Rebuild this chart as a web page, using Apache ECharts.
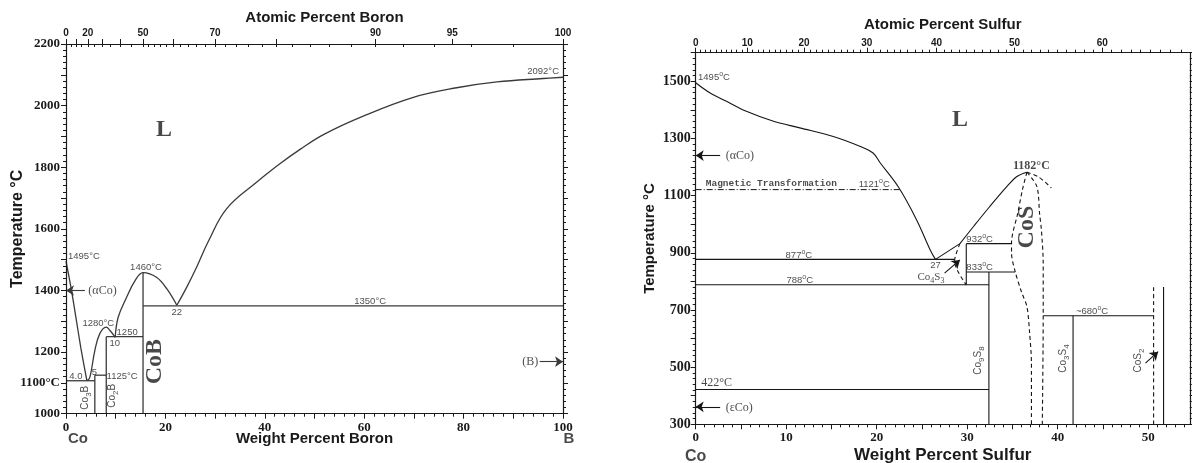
<!DOCTYPE html>
<html><head><meta charset="utf-8">
<script src="https://cdn.jsdelivr.net/npm/echarts@6/dist/echarts.min.js"></script>
<style>html,body{margin:0;padding:0;background:#fff}#c{width:1192px;height:463px}</style>
</head><body><div id="c"></div>
<script>
// ================= DATA =================
const M_CO = 58.933, M_B = 10.811, M_S = 32.06;   // atomic masses (for the atomic-% axis)

// ---- Co–B (x: wt% B, y: °C) ----
const cbLiquidusCo  = [[0,1495],[1,1410],[2,1312],[3,1212],[4.2,1107]];
const cbCo2BDome    = [[4.2,1107],[4.8,1118],[5.8,1205],[6.8,1260],[8.1,1281],[8.85,1270],[9.9,1248]];
const cbCoBDome     = [[9.9,1248],[10.5,1313],[12.2,1378],[13.9,1432],[15.5,1458],[18.2,1443],[20.3,1405],[22.3,1352]];
const cbLiquidusB   = [[22.3,1352],[24.3,1411],[26.3,1476],[28.6,1558],[32.3,1665],[38.4,1752],[43.1,1812],[47.1,1858],[51.8,1906],[59.8,1966],[69.9,2027],[78.6,2058],[86.7,2077],[96,2088],[100,2092]];
const cbStraight    = [
  [[0,1107],[5.8,1107]],        // eutectic
  [[5.8,1000],[5.8,1125]],      // Co3B
  [[5.8,1125],[8.1,1125]],      // 1125 peritectic
  [[8.1,1000],[8.1,1250]],      // Co2B
  [[8.1,1250],[15.5,1250]],     // 1250 eutectic
  [[15.5,1000],[15.5,1458]],    // CoB
  [[15.5,1350],[100,1350]]      // 1350 eutectic
];
const cbArrows = [ [[3.8,1400],[0,1400]], [[95.3,1169],[100,1169]] ];
const cbNotes = [
  ['L',19.7,1920,'bigL'], ['1495°C',0.2,1511,'smLeft'], ['(αCo)',4.3,1400,'serifLeft'],
  ['1460°C',16.1,1476,'sm'], ['1280°C',6.5,1294,'sm'], ['1250',12.3,1264,'sm'], ['10',9.8,1228,'sm'],
  ['4.0',2.0,1121,'sm'], ['5',5.7,1134,'sm'], ['1125°C',11.3,1121,'sm'],
  ['Co{sub|3}B',3.8,1052,'rot'], ['Co{sub|2}B',9.3,1058,'rot'], ['CoB',17.9,1169,'bigRot'],
  ['22',22.3,1329,'sm'], ['1350°C',61.2,1365,'sm'], ['2092°C',99.4,2110,'smRight'],
  ['(B)',95.2,1169,'serifRight']
];
const cbElements = [['Co',2.4,1000,'elem'],['B',101.2,1000,'elem']];
const cbXLabels = [0,20,40,60,80,100];
const cbYLabels = [1000,1100,1200,1400,1600,1800,2000,2200];
const cbAtLabels = [0,20,50,70,90,95,100];
const cbAtMajor  = [0,10,20,30,40,50,60,70,80,90,95,100];

// ---- Co–S (x: wt% S, y: °C) ----
const csLiquidusCo  = [[0,1495],[1.6,1459],[3.4,1430],[5.6,1395],[8.6,1360],[11.5,1337],[15.2,1307],[18.2,1272],[19.6,1249],[20.4,1214],[22.4,1130],[24.4,1016],[25.9,911],[26.5,877]];
const csLiqToPerit  = [[26.5,877],[29.2,932]];
const csLiquidusCoS = [[29.2,932],[30.7,992],[32.5,1062],[34.4,1132],[35.5,1167],[36.6,1182]];
const csDashed = [
  [[36.6,1182],[37.9,1165],[39.3,1127]],
  [[36.6,1182],[36.1,1120],[35.6,1040],[34.9,934],[34.9,899],[35.3,835],[36.0,763],[36.6,712],[36.9,619],[37.1,513],[37.1,300]],
  [[36.6,1182],[37.7,1132],[38.0,1037],[38.2,980],[38.4,864],[38.4,677],[38.3,300]],
  [[29.2,932],[28.6,870],[29.9,788]],
  [[50.6,300],[50.6,782]]
];
const csMagnetic = [[0,1121],[22.6,1121]];
const csStraight = [
  [[0,877],[28.6,877]],
  [[0,788],[32.4,788]],
  [[0,422],[32.4,422]],
  [[29.9,788],[29.9,932]],
  [[29.9,932],[34.9,932]],
  [[29.9,833],[35.3,833]],
  [[32.4,300],[32.4,833]],
  [[38.4,680],[50.6,680]],
  [[41.7,300],[41.7,680]],
  [[51.7,300],[51.7,780]]
];
const csArrows = [ [[2.7,1240],[0,1240]], [[2.7,361],[0,361]], [[27.5,829],[29.2,875]], [[49.7,514],[51.1,554]] ];
const csNotes = [
  ['L',29.2,1364,'bigL'], ['1495{sup|o}C',0.15,1512,'smLeft'], ['(αCo)',3.2,1238,'serifLeft'],
  ['Magnetic Transformation',1.0,1143,'mono'], ['1121{sup|o}C',17.9,1140,'smLeft'],
  ['877{sup|o}C',11.4,891,'sm'], ['788{sup|o}C',11.5,803,'sm'], ['422°C',0.5,444,'serifLeft'],
  ['(εCo)',3.2,359,'serifLeft'], ['27',26.5,856,'sm'], ['Co{sub|4}S{sub|3}',26.0,816,'serif'],
  ['932{sup|o}C',29.8,948,'smLeft'], ['833{sup|o}C',29.8,850,'smLeft'],
  ['1182°C',37.1,1204,'serifBold'], ['CoS',36.6,990,'bigRot'],
  ['Co{sub|9}S{sub|8}',31.2,523,'rot'], ['Co{sub|3}S{sub|4}',40.6,530,'rot'], ['CoS{sub|2}',48.9,523,'rot'],
  ['~680{sup|o}C',43.8,695,'sm']
];
const csElements = [['Co',0,300,'elem2']];
const csXLabels = [0,10,20,30,40,50];
const csYLabels = [300,500,700,900,1100,1300,1500];
const csAtLabels = [0,10,20,30,40,50,60];

// ================= RENDER =================
const SERIF = '"Liberation Serif","Times New Roman",serif';
const SANS  = '"Liberation Sans",Arial,sans-serif';
const MONO  = '"Liberation Mono","DejaVu Sans Mono",monospace';
const INK = '#1a1a1a';
const atToWt = (a, m) => a*m/(a*m + (100-a)*M_CO)*100;
const range = (a,b,s) => { const r=[]; for(let v=a; v<=b+1e-9; v+=s) r.push(+v.toFixed(6)); return r; };

function ax(o){
  return {
    type:'value', gridIndex:o.g, position:o.pos, min:o.min, max:o.max,
    axisLine:{show:o.line!==false, onZero:false, lineStyle:{color:INK,width:1.2}},
    axisTick:{show:true, customValues:o.ticks, length:o.len||5, inside:!!o.inside, lineStyle:{color:INK,width:1}},
    axisLabel:o.labels ? {show:true, customValues:o.labels, formatter:o.fmt||(v=>String(v)), margin:o.margin||6,
      fontFamily:o.font||SERIF, fontWeight:'bold', fontSize:o.fs||13, color:INK} : {show:false},
    splitLine:{show:false}, minorTick:{show:false}, minorSplitLine:{show:false},
    name:o.name||'', nameLocation:'middle', nameGap:o.gap||20, nameMoveOverlap:false,
    nameTextStyle:{fontFamily:SANS, fontWeight:'bold', fontSize:o.nfs||15, color:INK, padding:o.npad||0},
    z:5
  };
}

const cbAtMinor = range(0,100,1).filter(a=>a<50 ? a%5===0 : a%2===0).map(a=>atToWt(a,M_B));
const csAtMinor = range(0,68,1).map(a=>atToWt(a,M_S));
const csXMAX = 54.6;

const xAxis = [
  // grid 0 (Co-B)
  ax({g:0,pos:'bottom',min:0,max:100,ticks:range(0,100,10),labels:cbXLabels,margin:7,len:5,name:'Weight Percent Boron',gap:18,nfs:15}),
  ax({g:0,pos:'bottom',min:0,max:100,ticks:range(0,100,2),len:3,line:false}),
  ax({g:0,pos:'top',min:0,max:100,ticks:cbAtMajor.map(a=>atToWt(a,M_B)),labels:cbAtLabels.map(a=>atToWt(a,M_B)),
      fmt:v=>String(Math.round(cbAtLabels.find(a=>Math.abs(atToWt(a,M_B)-v)<1e-6))),font:SANS,fs:10,margin:6,len:5,
      name:'Atomic Percent Boron',gap:19,nfs:15,npad:[0,0,0,20]}),
  ax({g:0,pos:'top',min:0,max:100,ticks:cbAtMinor,len:3,inside:true,line:false}),
  // grid 1 (Co-S)
  ax({g:1,pos:'bottom',min:0,max:csXMAX,ticks:range(0,50,5),labels:csXLabels,margin:7,len:5,name:'Weight Percent Sulfur',gap:23,nfs:17}),
  ax({g:1,pos:'bottom',min:0,max:csXMAX,ticks:range(0,54,1),len:3,line:false}),
  ax({g:1,pos:'top',min:0,max:csXMAX,ticks:range(0,60,10).map(a=>atToWt(a,M_S)),labels:csAtLabels.map(a=>atToWt(a,M_S)),
      fmt:v=>String(Math.round(csAtLabels.find(a=>Math.abs(atToWt(a,M_S)-v)<1e-6))),font:SANS,fs:10,margin:4,len:5,
      name:'Atomic Percent Sulfur',gap:20,nfs:15}),
  ax({g:1,pos:'top',min:0,max:csXMAX,ticks:csAtMinor,len:3,line:false})
];
const yAxis = [
  ax({g:0,pos:'left',min:1000,max:2200,ticks:range(1000,2200,100),labels:cbYLabels,fmt:v=>v===1100?'1100°C':String(v),margin:6,len:5,name:'Temperature °C',gap:40,nfs:16}),
  ax({g:0,pos:'left',min:1000,max:2200,ticks:range(1000,2200,20),len:3,line:false}),
  ax({g:0,pos:'right',min:1000,max:2200,ticks:range(1000,2200,100),len:5}),
  ax({g:0,pos:'right',min:1000,max:2200,ticks:range(1000,2200,20),len:3,line:false}),
  ax({g:1,pos:'left',min:300,max:1600,ticks:range(300,1600,100),labels:csYLabels,margin:5,len:5,fs:14,name:'Temperature °C',gap:38,nfs:15}),
  ax({g:1,pos:'left',min:300,max:1600,ticks:range(300,1600,20),len:3,line:false}),
  ax({g:1,pos:'right',min:300,max:1600,ticks:range(300,1600,100),len:4}),
  ax({g:1,pos:'right',min:300,max:1600,ticks:range(300,1600,20),len:2,line:false})
];

const LEFT_COL = '#3a3a3a', RIGHT_COL = '#151515';
function line(data, gi, opts){
  opts = opts||{};
  return {type:'line', xAxisIndex:gi*4, yAxisIndex:gi*4, data, symbol:'none', showSymbol:false, silent:true,
    smooth:opts.smooth||false, clip:false, animation:false, z:3,
    lineStyle:{color:gi?RIGHT_COL:LEFT_COL, width:opts.w||(gi?1.1:1.3), type:opts.type||'solid'}};
}
function arrows(list, gi){
  return {type:'line', xAxisIndex:gi*4, yAxisIndex:gi*4, data:[], silent:true, animation:false,
    markLine:{silent:true, animation:false, symbol:['none','arrow'], symbolSize:8,
      lineStyle:{type:'solid', color:gi?RIGHT_COL:LEFT_COL, width:1.1}, label:{show:false},
      data:list.map(s=>[{coord:s[0], symbol:'none'},{coord:s[1], symbol:'arrow', symbolSize:8}])}};
}
const RICH = {
  sub:{fontSize:8, verticalAlign:'bottom'},
  sup:{fontSize:7, verticalAlign:'top'}
};
const KINDS = {
  bigL:      {font:SERIF, fs:24, fw:'bold', pos:'inside'},
  sm:        {font:SANS, fs:9.5, pos:'inside'},
  smLeft:    {font:SANS, fs:9.5, pos:'right'},
  smRight:   {font:SANS, fs:9.5, pos:'left'},
  serif:     {font:SERIF, fs:11, pos:'inside'},
  serifLeft: {font:SERIF, fs:12, pos:'right'},
  serifRight:{font:SERIF, fs:12, pos:'left'},
  serifBold: {font:SERIF, fs:12, fw:'bold', pos:'inside'},
  rot:       {font:SANS, fs:10, pos:'inside', rot:90},
  bigRot:    {font:SERIF, fs:24, fw:'bold', pos:'inside', rot:90},
  mono:      {font:MONO, fs:9.5, fw:'bold', pos:'right'},
  elem:      {font:SANS, fs:15, fw:'bold', pos:'inside', off:[0,25]},
  elem2:     {font:SANS, fs:16, fw:'bold', pos:'inside', off:[0,32]}
};
function notes(list, gi){
  return {type:'scatter', xAxisIndex:gi*4, yAxisIndex:gi*4, symbolSize:0, silent:true, clip:false, animation:false, z:10,
    data:list.map(n=>{ const k=KINDS[n[3]];
      const rich={}; for(const key in RICH) rich[key]=Object.assign({}, RICH[key], {fontFamily:k.font, fontWeight:k.fw||'normal', color:INK,
        fontSize: key==='sub' ? Math.round(k.fs*0.75) : Math.round(k.fs*0.7)});
      return {value:[n[1],n[2]], label:{show:true, formatter:n[0], position:k.pos, distance:1, rotate:k.rot||0,
        offset:k.off||[0,0], fontFamily:k.font, fontSize:k.fs, fontWeight:k.fw||'normal', color:INK,
        lineHeight:Math.round(k.fs*1.45), rich}}; })};
}

const series = [
  line(cbLiquidusCo,0,{smooth:0.2}), line(cbCo2BDome,0,{smooth:0.4}), line(cbCoBDome,0,{smooth:0.4}),
  line(cbLiquidusB,0,{smooth:0.4}),
  ...cbStraight.map(s=>line(s,0)),
  arrows(cbArrows,0), notes(cbNotes.concat(cbElements),0),
  line(csLiquidusCo,1,{smooth:0.35}), line(csLiqToPerit,1), line(csLiquidusCoS,1,{smooth:0.35}),
  ...csDashed.map(s=>line(s,1,{smooth:0.3,type:[4,3]})),
  line(csMagnetic,1,{type:[6,2,1,2],w:1}),
  ...csStraight.map(s=>line(s,1)),
  arrows(csArrows,1), notes(csNotes.concat(csElements),1)
];

const chart = echarts.init(document.getElementById('c'), null, {renderer:'canvas'});
chart.setOption({
  animation:false, backgroundColor:'#fff',
  grid:[
    {left:66, top:44, width:497, height:369.7, containLabel:false, outerBoundsMode:'none'},
    {left:695.7, top:52.7, width:494.1, height:371.6, containLabel:false, outerBoundsMode:'none'}
  ],
  xAxis, yAxis, series
});
</script></body></html>
